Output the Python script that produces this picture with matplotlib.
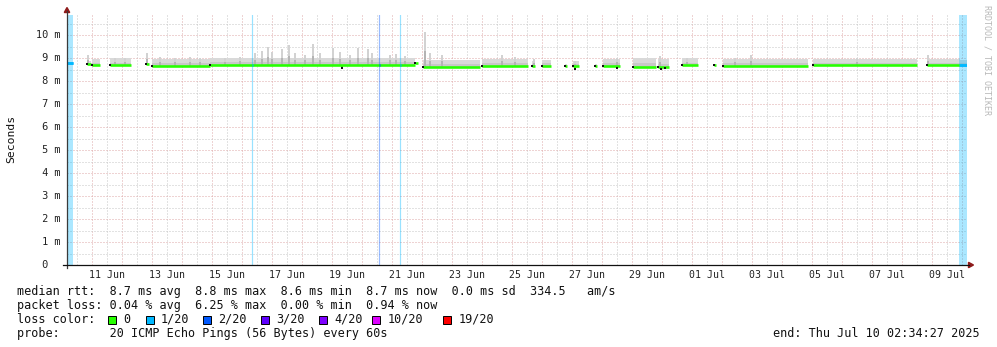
import matplotlib

matplotlib.use("Agg")
import matplotlib.dates as mdates
import matplotlib.pyplot as plt
import numpy as np
import pandas as pd
from matplotlib.patches import Polygon, Rectangle
from matplotlib.transforms import blended_transform_factory

W, H = 997, 347
MONO = "DejaVu Sans Mono"

# median rtt segments (gaps = no data), local time, values in ms
seg_start = ["06-10 03:46", "06-10 20:00", "06-11 00:00", "06-11 14:10", "06-12 19:00",
             "06-12 23:30", "06-14 22:10", "06-21 18:10", "06-22 00:20", "06-23 23:45",
             "06-25 15:45", "06-26 00:00", "06-26 18:10", "06-27 00:20", "06-27 18:10",
             "06-28 00:50", "06-29 00:50", "06-29 20:35", "06-30 15:30", "07-01 17:35",
             "07-02 00:20", "07-05 00:20", "07-08 19:30", "07-09 22:10"]
seg_end = ["06-10 08:10", "06-10 23:00", "06-11 06:00", "06-12 07:00", "06-12 21:40",
           "06-14 22:10", "06-21 18:10", "06-21 20:10", "06-23 22:10", "06-25 12:30",
           "06-25 18:10", "06-26 07:00", "06-26 19:40", "06-27 05:35", "06-27 19:45",
           "06-28 14:10", "06-29 19:00", "06-30 05:20", "07-01 04:20", "07-01 19:00",
           "07-04 20:50", "07-08 11:45", "07-09 22:10", "07-10 03:46"]
seg_median = [8.77, 8.75, 8.68, 8.68, 8.72, 8.66, 8.69, 8.78, 8.63, 8.65, 8.66, 8.66,
              8.66, 8.65, 8.66, 8.67, 8.62, 8.62, 8.68, 8.68, 8.67, 8.68, 8.69, 8.70]
seg_smoke = [8.80, 8.85, 8.96, 8.98, 8.80, 8.95, 9.02, 8.80, 8.93, 8.95, 8.85, 8.92,
             8.75, 8.85, 8.75, 8.95, 8.98, 8.95, 8.98, 8.75, 8.95, 8.96, 8.97, 8.90]
seg_loss = [1, 0, 0, 0, 0, 0, 0, 0, 0, 0, 0, 0, 0, 0, 0, 0, 0, 0, 0, 0, 0, 0, 0, 1]

# smoke spikes (max of the 20 pings), ms
spike_time = ["06-10 20:34", "06-11 18:14", "06-12 02:10", "06-12 19:45", "06-13 06:10",
              "06-13 18:10", "06-14 06:10", "06-14 14:10", "06-15 10:10", "06-15 22:10",
              "06-16 10:10", "06-16 15:46", "06-16 20:34", "06-16 23:46", "06-17 07:46",
              "06-17 13:22", "06-17 18:10", "06-18 02:10", "06-18 08:34", "06-18 14:10",
              "06-19 00:34", "06-19 06:10", "06-19 14:10", "06-19 20:34", "06-20 04:34",
              "06-20 07:46", "06-20 22:10", "06-21 02:58", "06-21 10:10", "06-22 02:10",
              "06-22 06:10", "06-22 15:46", "06-24 15:46", "06-25 02:10", "06-25 17:20",
              "06-27 02:10", "06-28 11:46", "06-29 22:10", "06-30 19:46", "07-02 10:10",
              "07-02 22:58", "07-06 12:00", "07-08 20:34"]
spike_top = [9.13, 9.02, 9.00, 9.23, 9.05, 9.00, 9.05, 9.00, 9.02, 9.05,
             9.20, 9.30, 9.46, 9.25, 9.38, 9.57, 9.20, 9.15, 9.60, 9.20,
             9.42, 9.25, 9.15, 9.42, 9.38, 9.20, 9.15, 9.16, 9.10, 10.15,
             9.20, 9.13, 9.13, 9.06, 8.94, 8.89, 8.99, 9.09, 9.00, 9.00,
             9.13, 9.02, 9.13]

# short drops of the median
dip_time = ["06-19 07:30", "06-27 02:10", "06-28 11:46", "06-29 23:00", "06-30 02:10"]
dip_value = [8.55, 8.52, 8.57, 8.52, 8.55]

# packet loss bars
loss_start = ["06-10 03:46", "06-16 07:22", "06-20 12:58", "06-21 05:46", "07-09 21:22"]
loss_end = ["06-10 08:10", "06-16 08:10", "06-20 13:46", "06-21 06:34", "07-10 03:46"]
loss_level = [1, 1, 2, 1, 1]

# legend
loss_keys = [0, 1, 2, 3, 4, 10, 19]
loss_labels = ["0", "1/20", "2/20", "3/20", "4/20", "10/20", "19/20"]
loss_colors = ["#26ff00", "#00b8ff", "#0059ff", "#5e00ff", "#7e00ff", "#dd00ff", "#ff0000"]
LOSS_COLOR = dict(zip(loss_keys, loss_colors))

MGRID = "#dfa9a9"
GRID = "#c6c6c6"
ARROW = "#8e1b1b"
PX = 0.72  # one pixel in points


def tnum(s):
    return mdates.date2num(pd.Timestamp("2025-" + s))


def fx(p):
    return p / W


def fy(p):
    return 1 - p / H


def median_at(t):
    for a, b, m in zip(seg_start, seg_end, seg_median):
        if tnum(a) <= t <= tnum(b):
            return m
    return 8.69


fig = plt.figure(figsize=(W / 100, H / 100), dpi=100)
fig.patch.set_facecolor("white")
ax = fig.add_axes([fx(67), fy(265), 900 / W, 250 / H])

x0 = tnum("06-10 03:46")
ax.set_xlim(x0, x0 + 30)
ax.set_ylim(0, 250 / 23)
for s in ax.spines.values():
    s.set_visible(False)

midnights = mdates.date2num(pd.date_range("2025-06-11", "2025-07-10", freq="D").to_pydatetime())
noons = mdates.date2num(pd.date_range("2025-06-10 12:00", "2025-07-09 12:00", freq="D").to_pydatetime())
ax.set_xticks(midnights)
ax.set_xticks(noons, minor=True)
ax.set_yticks(np.arange(0, 11))
ax.set_yticks(np.arange(0.5, 11, 0.5), minor=True)
ax.tick_params(which="both", length=0, labelbottom=False, labelleft=False)
ax.grid(which="major", color=MGRID, linestyle=(0, (1, 2)), linewidth=PX)
ax.grid(which="minor", color=GRID, linestyle=(0, (1, 2)), linewidth=PX)
ax.set_axisbelow(True)

# smoke
for a, b, m, top in zip(seg_start, seg_end, seg_median, seg_smoke):
    ta, tb = tnum(a), tnum(b)
    ax.fill_between([ta, tb], m - 0.03, top, color="#d9d9d9", lw=0, zorder=2)
    ax.fill_between([ta, tb], m, m + (top - m) * 0.4, color="#c8c8c8", lw=0, zorder=2.1)

for t, top in zip(spike_time, spike_top):
    tt = tnum(t)
    m = median_at(tt)
    ax.vlines(tt, m, top, color="#d2d2d2", lw=2 * PX, zorder=2.2)
    ax.vlines(tt, m, m + (top - m) * 0.45, color="#b4b4b4", lw=2 * PX, zorder=2.3)

# loss bars (single-step losses are one pixel wide)
for a, b, lvl in zip(loss_start, loss_end, loss_level):
    ta, tb = tnum(a), tnum(b)
    if tb - ta < 0.1:
        ax.axvline((ta + tb) / 2, color=LOSS_COLOR[lvl], alpha=0.4, lw=1.2 * PX, zorder=2.5)
    else:
        ax.axvspan(ta, tb, color=LOSS_COLOR[lvl], alpha=0.33, lw=0, zorder=2.5)

# median line
for a, b, m, lvl in zip(seg_start, seg_end, seg_median, seg_loss):
    ax.hlines(m, tnum(a), tnum(b), color=LOSS_COLOR[lvl], lw=2.6 * PX, zorder=3)
    if lvl == 0:
        ax.plot(tnum(a), m, marker="s", ms=1.6, color="#111111", mew=0, zorder=4)

for a, b, lvl in zip(loss_start, loss_end, loss_level):
    ta, tb = tnum(a), tnum(b)
    ax.hlines(median_at(ta), ta, max(tb, ta + 0.034), color=LOSS_COLOR[lvl],
              lw=2.6 * PX, zorder=3.1)

for t, v in zip(dip_time, dip_value):
    tt = tnum(t)
    ax.vlines(tt, v, median_at(tt), color=LOSS_COLOR[0], lw=2 * PX, zorder=3.2)
    ax.plot(tt, v, marker="s", ms=1.6, color="#111111", mew=0, zorder=4)

# tick labels
ty = blended_transform_factory(fig.transFigure, ax.transData)
for v in range(0, 11):
    lab = f"{v:2d} m" if v else " 0"
    fig.text(fx(36), v, lab, transform=ty, ha="left", va="center",
             family=MONO, fontsize=7.4, color="#222222")

tx = blended_transform_factory(ax.transData, fig.transFigure)
label_days = pd.date_range("2025-06-11 12:00", "2025-07-09 12:00", freq="2D")
for d in label_days:
    fig.text(mdates.date2num(d.to_pydatetime()), fy(274.5), d.strftime("%d %b"),
             transform=tx, ha="center", va="center", family=MONO, fontsize=7.1,
             color="#222222")

# axes lines and arrows
fig.add_artist(plt.Line2D([fx(67), fx(67)], [fy(268), fy(11)], color="#3a3a3a", lw=0.9))
fig.add_artist(plt.Line2D([fx(63), fx(969)], [fy(265), fy(265)], color="#111111", lw=0.9))
fig.add_artist(Polygon([[fx(64.3), fy(12.5)], [fx(69.7), fy(12.5)], [fx(67), fy(7.5)]],
                       closed=True, color=ARROW, transform=fig.transFigure))
fig.add_artist(Polygon([[fx(968.5), fy(262.3)], [fx(968.5), fy(267.7)], [fx(973.5), fy(265)]],
                       closed=True, color=ARROW, transform=fig.transFigure))

fig.text(fx(11), fy(139), "Seconds", rotation=90, ha="center", va="center",
         family=MONO, fontsize=8.2, color="#111111")
fig.text(fx(987), fy(5), "RRDTOOL / TOBI OETIKER", rotation=270, ha="center", va="top",
         family=MONO, fontsize=6.0, color="#b8b8b8")

# legend block
lines = [
    "median rtt:  8.7 ms avg  8.8 ms max  8.6 ms min  8.7 ms now  0.0 ms sd  334.5   am/s",
    "packet loss: 0.04 % avg  6.25 % max  0.00 % min  0.94 % now",
    "loss color:",
    "probe:       20 ICMP Echo Pings (56 Bytes) every 60s",
]
for i, s in enumerate(lines):
    fig.text(fx(16.5), fy(291.5 + 14 * i), s, ha="left", va="center",
             family=MONO, fontsize=8.5, color="#111111")

box_x = [108.3, 146, 203.3, 261, 319, 372.3, 443.3]
for bx, c, lab in zip(box_x, loss_colors, loss_labels):
    fig.add_artist(Rectangle((fx(bx), fy(323.5)), 7.5 / W, 8 / H, facecolor=c,
                             edgecolor="black", lw=0.7, transform=fig.transFigure))
    fig.text(fx(bx + 15), fy(319.5), lab, ha="left", va="center",
             family=MONO, fontsize=8.5, color="#111111")

fig.text(fx(980), fy(333.5), "end: Thu Jul 10 02:34:27 2025", ha="right", va="center",
         family=MONO, fontsize=8.5, color="#111111")

fig.savefig("out.png", dpi=100, facecolor="white")
